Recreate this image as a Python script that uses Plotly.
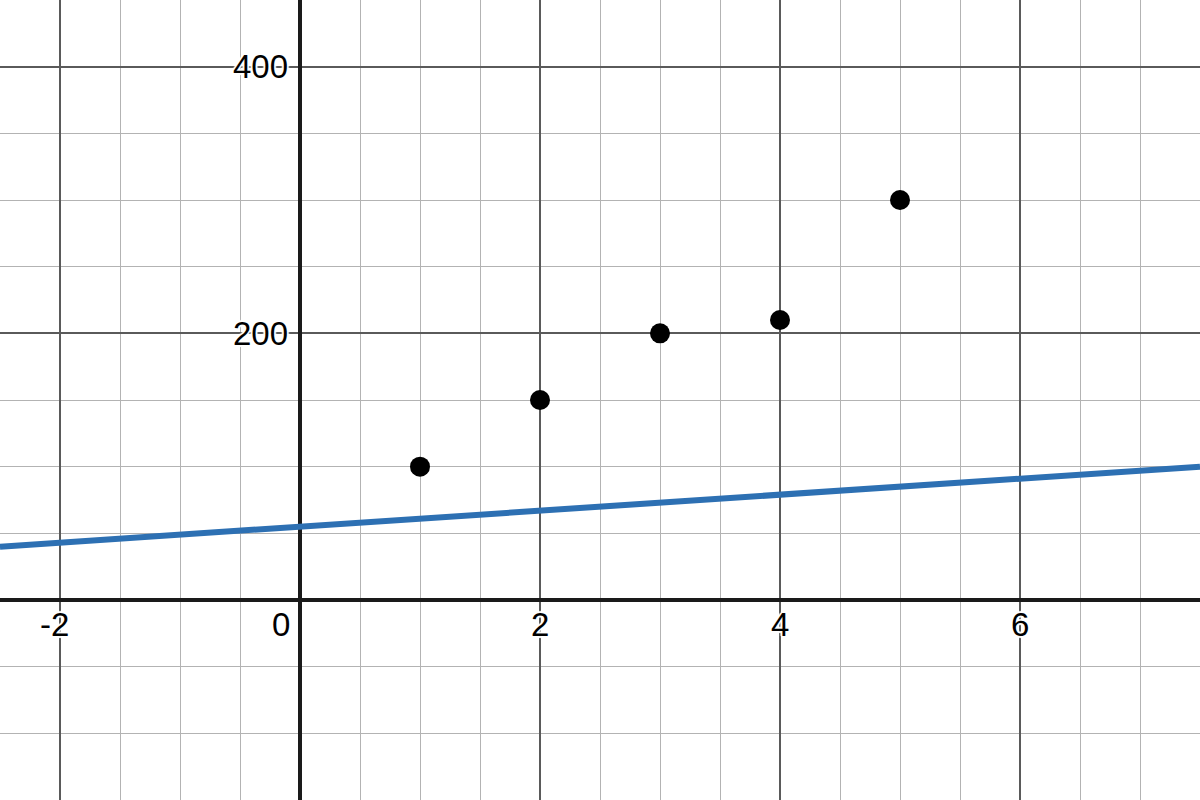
import plotly.graph_objects as go

# scatter points
point_x = [1, 2, 3, 4, 5]
point_y = [100, 150, 200, 210, 300]

# blue line, read at the left and right edges of the view
line_x = [-2.5, 7.5]
line_y = [40, 100]

# axis labels
x_tick_values = [-2, 0, 2, 4, 6]
y_tick_values = [200, 400]

label_font = dict(family="Liberation Sans, Arial", size=33, color="black",
                  shadow="white 2px 0px 1px, white -2px 0px 1px, white 0px 2px 1px, white 0px -2px 1px")

fig = go.Figure()

fig.add_trace(go.Scatter(
    x=line_x, y=line_y, mode="lines",
    line=dict(color="#2d70b3", width=6),
    hoverinfo="skip"
))
fig.add_trace(go.Scatter(
    x=point_x, y=point_y, mode="markers",
    marker=dict(color="black", size=20)
))

annotations = []
for v in x_tick_values:
    if v == 0:
        annotations.append(dict(x=v, y=0, text=str(v), showarrow=False,
                                xanchor="right", yanchor="top", xshift=-8, yshift=-4,
                                font=label_font))
    else:
        annotations.append(dict(x=v, y=0, text=str(v), showarrow=False,
                                xanchor="center", yanchor="top",
                                xshift=-6 if v < 0 else 0, yshift=-4,
                                font=label_font))
for v in y_tick_values:
    annotations.append(dict(x=0, y=v, text=str(v), showarrow=False,
                            xanchor="right", yanchor="middle", xshift=-10,
                            font=label_font))

fig.update_layout(
    width=1200, height=800,
    margin=dict(l=0, r=0, t=0, b=0),
    paper_bgcolor="white", plot_bgcolor="white",
    showlegend=False,
    annotations=annotations,
    xaxis=dict(
        range=[-2.5, 7.5], tick0=0, dtick=2,
        showgrid=True, gridcolor="#5a5a5a", gridwidth=1.5,
        minor=dict(dtick=0.5, showgrid=True, gridcolor="#b3b3b3", gridwidth=1.3),
        zeroline=True, zerolinecolor="#1a1a1a", zerolinewidth=3.5,
        showticklabels=False, ticks="", fixedrange=True,
    ),
    yaxis=dict(
        range=[-150, 450], tick0=0, dtick=200,
        showgrid=True, gridcolor="#5a5a5a", gridwidth=1.5,
        minor=dict(dtick=50, showgrid=True, gridcolor="#b3b3b3", gridwidth=1.3),
        zeroline=True, zerolinecolor="#1a1a1a", zerolinewidth=3.5,
        showticklabels=False, ticks="", fixedrange=True,
    ),
)

fig.write_html("out.html", config={"displayModeBar": False},
               post_script="document.body.style.margin='0';document.body.style.overflow='hidden';")
